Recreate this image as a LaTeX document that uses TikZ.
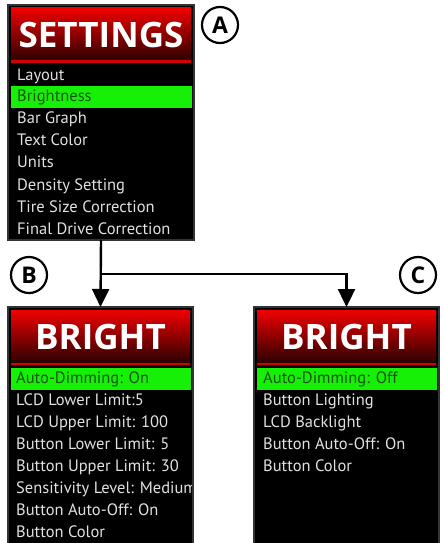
\documentclass[tikz,border=0pt]{standalone}
\usepackage{fontspec}
\setmainfont{PT Sans}
\newfontfamily\titlefont{Open Sans}
\usetikzlibrary{arrows.meta,calc}
\definecolor{hdrtop}{RGB}{240,0,0}
\definecolor{hdrmid}{RGB}{195,0,0}
\definecolor{hdrbot}{RGB}{45,0,0}
\definecolor{hdrline}{RGB}{215,0,0}
\definecolor{selgreen}{RGB}{22,240,6}
\definecolor{seltext}{RGB}{20,85,10}
\definecolor{itemtext}{RGB}{225,225,225}
\tikzset{
  panel/.style={draw=black!80, line width=1.2pt, fill=black, inner sep=0pt, outer sep=0pt},
  ttl/.style={text=white, font=\titlefont\bfseries\fontsize{35}{35}\selectfont, inner sep=0pt},
  item/.style={anchor=west, text=itemtext, font=\fontsize{16.5}{18}\selectfont, inner sep=0pt,
    text height=11.5pt, text depth=3.5pt},
  selitem/.style={item, text=seltext},
  tag/.style={circle, draw=black, line width=2.2pt, minimum size=36pt, inner sep=0pt, fill=white,
    font=\titlefont\bfseries\fontsize{23}{23}\selectfont},
  arr/.style={line width=2.4pt, -{Triangle[width=17pt,length=18pt]}},
}
\begin{document}
\begin{tikzpicture}[x=1pt,y=-1pt]
\useasboundingbox (0,0) rectangle (444,543);
\begin{scope}
\clip (0,0) rectangle (444,543);
% panels
\node[panel, minimum width=186pt, minimum height=235pt] (panelA) at (101,122.5) {};
\node[panel, minimum width=185pt, minimum height=250pt] (panelB) at (100.5,432) {};
\node[panel, minimum width=185pt, minimum height=250pt] (panelC) at (346.5,432) {};
% headers
\shade[top color=hdrtop, middle color=hdrmid, bottom color=hdrbot] (11,8) rectangle (191,60);
\fill[hdrline] (11,60.5) rectangle (191,63);
\shade[top color=hdrtop, middle color=hdrmid, bottom color=hdrbot] (11,310) rectangle (190,362);
\fill[hdrline] (11,362.5) rectangle (190,365);
\shade[top color=hdrtop, middle color=hdrmid, bottom color=hdrbot] (257,310) rectangle (436,362);
\fill[hdrline] (257,362.5) rectangle (436,365);
% selection bars
\fill[selgreen] (11,86) rectangle (192,108);
\fill[selgreen] (11,368) rectangle (191,390);
\fill[selgreen] (257,368) rectangle (437,390);
% titles
\node[ttl] (tA) at (101,35) {SETTINGS};
\node[ttl] (tB) at (100.5,337) {BRIGHT};
\node[ttl] (tC) at (346.5,337) {BRIGHT};
% items A
\node[item] (a1) at (17,76) {Layout};
\node[selitem] (a2) at (17,97.5) {Brightness};
\node[item] (a3) at (17,119) {Bar Graph};
\node[item] (a4) at (17,141) {Text Color};
\node[item] (a5) at (17,163) {Units};
\node[item] (a6) at (17,186) {Density Setting};
\node[item] (a7) at (17,208) {Tire Size Correction};
\node[item] (a8) at (17,230) {Final Drive Correction};
% items C
\node[selitem] (c1) at (263,379.5) {Auto-Dimming: Off};
\node[item] (c2) at (263,401) {Button Lighting};
\node[item] (c3) at (263,423) {LCD Backlight};
\node[item] (c4) at (263,445) {Button Auto-Off: On};
\node[item] (c5) at (263,467) {Button Color};
\end{scope}
% items B, cut at the panel's right edge
\begin{scope}
\clip (0,0) rectangle (191.5,543);
\node[selitem] (b1) at (16,379.5) {Auto-Dimming: On};
\node[item] (b2) at (16,401) {LCD Lower Limit:5};
\node[item] (b3) at (16,423) {LCD Upper Limit: 100};
\node[item] (b4) at (16,445) {Button Lower Limit: 5};
\node[item] (b5) at (16,467) {Button Upper Limit: 30};
\node[item] (b6) at (16,489) {Sensitivity Level: Medium};
\node[item] (b7) at (16,511) {Button Auto-Off: On};
\node[item] (b8) at (16,533) {Button Color};
\end{scope}
% tags
\node[tag] (tagA) at (220,25) {A};
\node[tag] (tagB) at (29,275) {B};
\node[tag] (tagC) at (418,275) {C};
% connectors
\coordinate (split) at (101,274);
\draw[arr] (panelA.south) -- (panelB.north);
\draw[arr] (split) -| (panelC.north);
\end{tikzpicture}
\end{document}
